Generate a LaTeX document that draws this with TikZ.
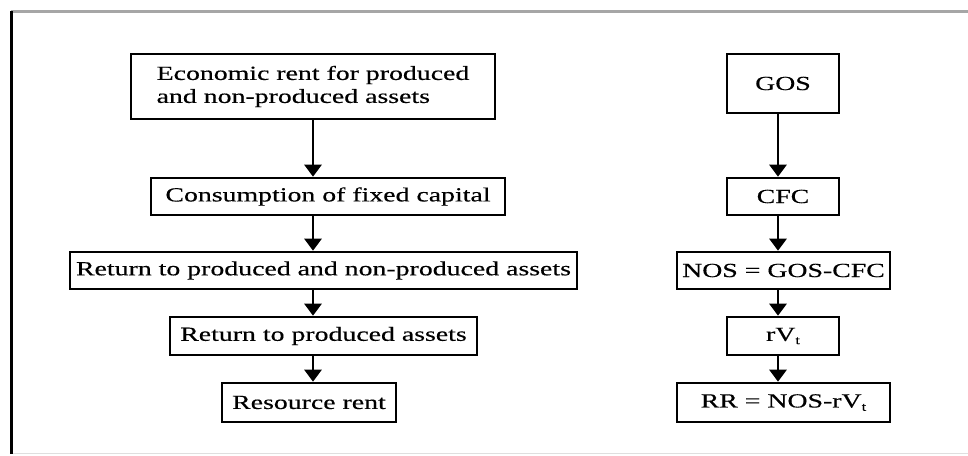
\documentclass[tikz,border=0pt]{standalone}
\usepackage{fontspec}
\setmainfont[FakeStretch=1.39,FakeBold=0.4]{Liberation Serif}
\usetikzlibrary{arrows.meta}
\begin{document}
\begin{tikzpicture}[x=1pt,y=-1pt,
  box/.style={draw=black,line width=2.6pt,inner sep=0pt,font=\fontsize{20}{23}\selectfont},
  flow/.style={line width=2.8pt,-{Triangle[width=17pt,length=12pt]}}]
\useasboundingbox (0,0) rectangle (968,455);
% frame
\draw[line width=3pt,gray!70] (11,11) -- (968,11);
\draw[line width=1pt,gray!25] (11,453) -- (968,453);
\draw[line width=3pt,black] (11,11) -- (11,454);
% left column
\node[box,minimum width=364pt,minimum height=65pt,align=left] (b1) at (313,86.5) {Economic rent for produced\\and non-produced assets};
\node[box,minimum width=354pt,minimum height=37pt] (b2) at (328,196.5) {Consumption of fixed capital};
\node[box,minimum width=507pt,minimum height=37pt] (b3) at (323.5,270.5) {Return to produced and non-produced assets};
\node[box,minimum width=307pt,minimum height=38pt] (b4) at (323.5,336) {Return to produced assets};
\node[box,minimum width=174pt,minimum height=39pt] (b5) at (309,402.5) {Resource rent};
\coordinate (lx) at (313,0);
\draw[flow] (b1.south -| lx) -- (b2.north -| lx);
\draw[flow] (b2.south -| lx) -- (b3.north -| lx);
\draw[flow] (b3.south -| lx) -- (b4.north -| lx);
\draw[flow] (b4.south -| lx) -- (b5.north -| lx);
% right column
\node[box,minimum width=112pt,minimum height=59pt] (r1) at (783,83.5) {GOS};
\node[box,minimum width=112pt,minimum height=37pt] (r2) at (783,196.5) {CFC};
\node[box,minimum width=213pt,minimum height=37pt] (r3) at (783.5,270.5) {NOS = GOS-CFC};
\node[box,minimum width=112pt,minimum height=38pt] (r4) at (783,336) {rV\raisebox{-0.35ex}{\fontsize{12}{12}\selectfont t}};
\node[box,minimum width=213pt,minimum height=39pt] (r5) at (783.5,402.5) {RR = NOS-rV\raisebox{-0.35ex}{\fontsize{12}{12}\selectfont t}};
\coordinate (rx) at (778,0);
\draw[flow] (r1.south -| rx) -- (r2.north -| rx);
\draw[flow] (r2.south -| rx) -- (r3.north -| rx);
\draw[flow] (r3.south -| rx) -- (r4.north -| rx);
\draw[flow] (r4.south -| rx) -- (r5.north -| rx);
\end{tikzpicture}
\end{document}
